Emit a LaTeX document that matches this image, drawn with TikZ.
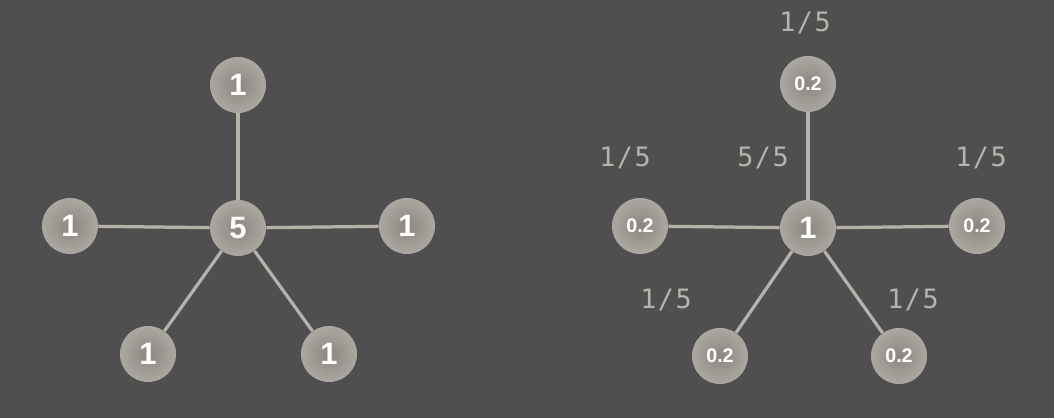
\documentclass[tikz,border=0pt]{standalone}
\usepackage{fontspec}
\setmainfont{Liberation Sans}
\newfontfamily\ratiofont[LetterSpace=6]{DejaVu Sans Mono}
\usetikzlibrary{shapes,backgrounds}

\definecolor{bgc}{RGB}{79,79,79}
\definecolor{ballin}{RGB}{138,134,128}
\definecolor{ballout}{RGB}{172,168,161}
\definecolor{edgec}{RGB}{182,177,169}
\definecolor{ratioc}{RGB}{184,179,171}

\tikzset{
	vert/.style={circle, minimum size=1.4cm, inner sep=0pt, inner color=ballin, outer color=ballout, text=white, font=\fontsize{22}{22}\selectfont\bfseries},
	share/.style={vert, font=\fontsize{14}{14}\selectfont\bfseries},
	link/.style={edgec, line width=2.3pt},
	ratio/.style={text=ratioc, font=\ratiofont\fontsize{19}{19}\selectfont}
}

\begin{document}
\begin{tikzpicture}[x=0.025cm, y=-0.025cm]

	\fill[bgc] (0,0) rectangle (1054,418);
	\useasboundingbox (0,0) rectangle (1054,418);

	% left star
	\node[vert] (c) at (238,228) {5};
	\node[vert] (t) at (238,85) {1};
	\node[vert] (l) at (70,226) {1};
	\node[vert] (r) at (407,226) {1};
	\node[vert] (bl) at (148,354) {1};
	\node[vert] (br) at (329,354) {1};
	\draw[link] (c) -- (t);
	\draw[link] (c) -- (l);
	\draw[link] (c) -- (r);
	\draw[link] (c) -- (bl);
	\draw[link] (c) -- (br);

	% right star
	\node[vert] (C) at (808,228) {1};
	\node[share] (T) at (808,84) {0.2};
	\node[share] (L) at (640,226) {0.2};
	\node[share] (R) at (977,226) {0.2};
	\node[share] (BL) at (720,356) {0.2};
	\node[share] (BR) at (899,356) {0.2};
	\draw[link] (C) -- (T);
	\draw[link] (C) -- (L);
	\draw[link] (C) -- (R);
	\draw[link] (C) -- (BL);
	\draw[link] (C) -- (BR);

	\node[ratio] (Tr) at (805,23) {1/5};
	\node[ratio] (Lr) at (625,158) {1/5};
	\node[ratio] (Cr) at (763,158) {5/5};
	\node[ratio] (Rr) at (981,158) {1/5};
	\node[ratio] (BLr) at (666,300) {1/5};
	\node[ratio] (BRr) at (913,300) {1/5};

\end{tikzpicture}
\end{document}
